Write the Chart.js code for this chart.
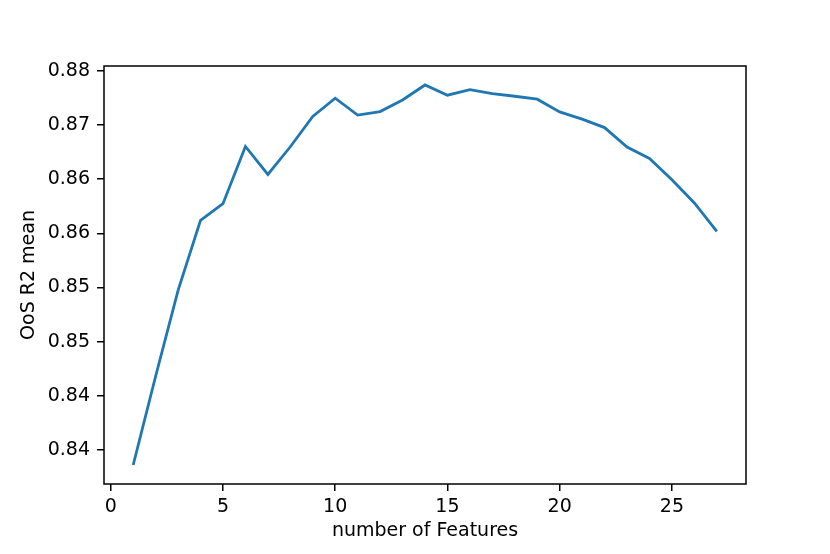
<!DOCTYPE html>
<html>
<head>
<meta charset="utf-8">
<script src="https://cdn.jsdelivr.net/npm/chart.js@4/dist/chart.umd.min.js"></script>
<style>
  html, body { margin: 0; padding: 0; background: #fff; }
  #chart { display: block; }
</style>
</head>
<body>
<canvas id="chart" width="830" height="554"></canvas>
<script>
// number of features vs mean out-of-sample R2
var featureCounts = [1, 2, 3, 4, 5, 6, 7, 8, 9, 10, 11, 12, 13, 14, 15, 16, 17, 18, 19, 20, 21, 22, 23, 24, 25, 26, 27];
var r2Means = [0.83862, 0.84681, 0.85473, 0.86120, 0.86273, 0.86801, 0.86543, 0.86798, 0.87077, 0.87246,
               0.87090, 0.87123, 0.87230, 0.87368, 0.87274, 0.87325, 0.87288, 0.87264, 0.87237, 0.87120,
               0.87053, 0.86975, 0.86795, 0.86690, 0.86494, 0.86280, 0.86018];

var xTicks = [0, 5, 10, 15, 20, 25];
var yTicks = [0.840, 0.845, 0.850, 0.855, 0.860, 0.865, 0.870, 0.875];
var yTickLabels = ['0.84', '0.84', '0.85', '0.85', '0.86', '0.86', '0.87', '0.88'];

var xLabel = 'number of Features';
var yLabel = 'OoS R2 mean';

// matplotlib style 5% margins
var xMin = -0.3, xMax = 28.3;
var yMin = 0.83687, yMax = 0.87543;

var font = { family: '"DejaVu Sans", sans-serif', size: 19 };

// draws the full black box around the plot area
var frame = {
  id: 'frame',
  afterDraw: function (chart) {
    var a = chart.chartArea, ctx = chart.ctx;
    ctx.save();
    ctx.strokeStyle = '#000';
    ctx.lineWidth = 1.5;
    ctx.strokeRect(a.left, a.top, a.right - a.left, a.bottom - a.top);
    ctx.restore();
  }
};

var points = featureCounts.map(function (n, i) { return { x: n, y: r2Means[i] }; });

new Chart(document.getElementById('chart'), {
  type: 'line',
  data: {
    datasets: [{
      data: points,
      borderColor: '#1f77b4',
      borderWidth: 2.8,
      pointRadius: 0,
      tension: 0,
      fill: false
    }]
  },
  options: {
    responsive: false,
    animation: false,
    devicePixelRatio: 1,
    layout: { padding: { top: 66, right: 84, left: 0, bottom: 0 } },
    plugins: {
      legend: { display: false },
      tooltip: { enabled: false }
    },
    scales: {
      x: {
        type: 'linear',
        min: xMin,
        max: xMax,
        afterFit: function (scale) { scale.height = 70; },
        afterBuildTicks: function (scale) {
          scale.ticks = xTicks.map(function (v) { return { value: v }; });
        },
        border: { display: false },
        grid: { drawOnChartArea: false, drawTicks: true, tickLength: 7, color: '#000', lineWidth: 1.5 },
        ticks: { font: font, color: '#000', padding: 5, maxRotation: 0 },
        title: { display: true, text: xLabel, font: font, color: '#000', padding: { top: 0, bottom: 12 } }
      },
      y: {
        type: 'linear',
        min: yMin,
        max: yMax,
        afterFit: function (scale) { scale.width = 104; },
        afterBuildTicks: function (scale) {
          scale.ticks = yTicks.map(function (v) { return { value: v }; });
        },
        border: { display: false },
        grid: { drawOnChartArea: false, drawTicks: true, tickLength: 7, color: '#000', lineWidth: 1.5 },
        ticks: {
          font: font,
          color: '#000',
          padding: 7,
          callback: function (value, index) { return yTickLabels[index]; }
        },
        title: { display: true, text: yLabel, font: font, color: '#000', padding: { top: 18, bottom: 0 } }
      }
    }
  },
  plugins: [frame]
});
</script>
</body>
</html>
